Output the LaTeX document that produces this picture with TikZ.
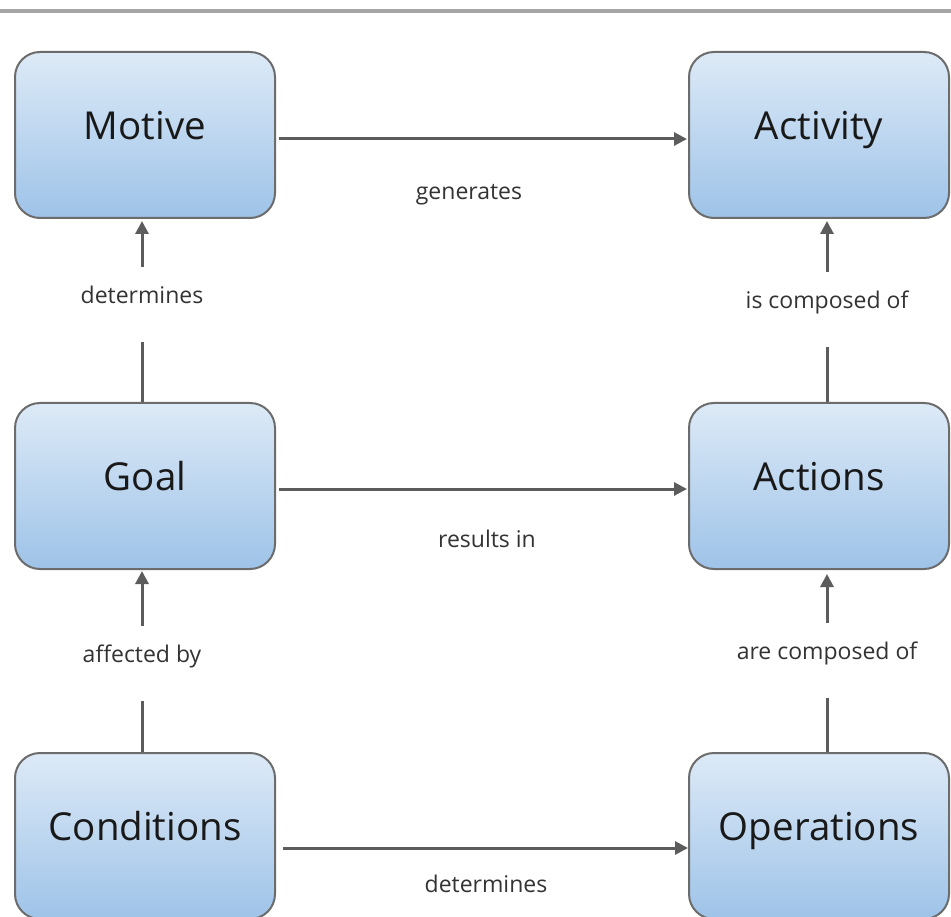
\documentclass[tikz,border=0pt]{standalone}
\usepackage{fontspec}
\setmainfont{Open Sans}
\usetikzlibrary{arrows.meta}
\definecolor{boxtop}{RGB}{221,234,247}
\definecolor{boxbot}{RGB}{158,195,232}
\definecolor{boxline}{RGB}{108,108,108}
\definecolor{arrcol}{RGB}{92,92,92}
\definecolor{rulecol}{RGB}{166,166,166}
\definecolor{lblcol}{RGB}{51,51,51}
\tikzset{
  box/.style={draw=boxline, line width=2pt, rounded corners=25pt,
    top color=boxtop, bottom color=boxbot, minimum width=260pt, minimum height=166pt,
    font=\fontsize{38.5}{40}\selectfont, text=black!90, text depth=20pt},
  arr/.style={draw=arrcol, line width=3pt, -{Triangle[length=13pt,width=13pt]}},
  hlbl/.style={font=\fontsize{23}{25}\selectfont, text=lblcol, text height=16pt, text depth=5pt, inner sep=0pt},
  vgap/.style={font=\fontsize{23}{25}\selectfont, text=lblcol, fill=white, inner xsep=2pt, inner ysep=0pt, text height=36.5pt, text depth=38.5pt}
}
\begin{document}
\begin{tikzpicture}[x=1pt,y=1pt]
\useasboundingbox (0,0) rectangle (951,-917);
\fill[white] (0,0) rectangle (951,-917);
\draw[rulecol, line width=4pt] (0,-11) coordinate (rl) -- (951,-11) coordinate (rr);

\node[box] (motive) at (145,-135) {Motive};
\node[box] (activity) at (819,-135) {Activity};
\node[box] (goal) at (145,-486) {Goal};
\node[box] (actions) at (819,-486) {Actions};
\node[box] (conditions) at (145,-836) {Conditions};
\node[box] (operations) at (819,-836) {Operations};

% horizontal
\draw[arr, shorten <=3pt, shorten >=1pt] ([yshift=-4pt]motive.east) -- node[hlbl, midway, xshift=-13pt, yshift=-55pt] {generates} ([yshift=-4pt]activity.west);
\draw[arr, shorten <=3pt, shorten >=1pt] ([yshift=-3pt]goal.east) -- node[hlbl, midway, xshift=5pt, yshift=-53pt] {results in} ([yshift=-3pt]actions.west);
\draw[arr, shorten <=7pt, shorten >=0pt] ([yshift=-12pt]conditions.east) -- node[hlbl, midway, xshift=4pt, yshift=-39pt] {determines} ([yshift=-12pt]operations.west);

% vertical
\draw[arr, shorten >=2pt] ([xshift=-3pt]goal.north) -- node[vgap, pos=0.532] {determines} ([xshift=-3pt]motive.south);
\draw[arr, shorten >=2pt] ([xshift=8pt]actions.north) -- node[vgap, pos=0.503] {is composed of} ([xshift=8pt]activity.south);
\draw[arr, shorten >=1pt] ([xshift=-3pt]conditions.north) -- node[vgap, pos=0.484] {affected by} ([xshift=-3pt]goal.south);
\draw[arr, shorten >=4pt] ([xshift=8pt]operations.north) -- node[vgap, pos=0.505] {are composed of} ([xshift=8pt]actions.south);
\end{tikzpicture}
\end{document}
